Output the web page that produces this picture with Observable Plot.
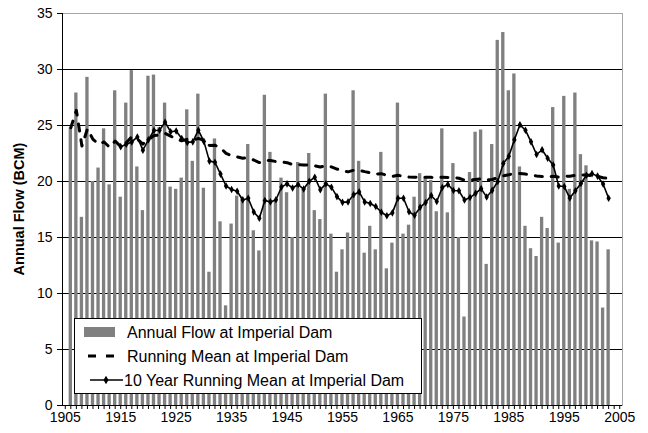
<!DOCTYPE html>
<html><head><meta charset="utf-8">
<script src="https://cdn.jsdelivr.net/npm/d3@7"></script>
<script src="https://cdn.jsdelivr.net/npm/@observablehq/plot@0.6"></script>
<style>
body{margin:0;background:#fff;}
#chart{position:relative;width:648px;height:433px;}
</style></head><body><div id="chart"></div>
<script>
// Years with data (water years at Imperial Dam)
const years = d3.range(1906, 2004);
// Annual flow (BCM)
const annualFlow = [
24.8,27.9,16.8,29.3,20.0,21.2,24.7,19.7,28.1,18.6,
27.0,29.9,21.3,17.4,29.4,29.5,24.8,27.0,19.5,19.3,
20.3,26.4,21.8,27.8,19.4,11.9,23.8,16.4,8.9,16.2,
18.7,18.6,23.3,15.6,13.8,27.7,22.6,18.3,20.3,19.0,
15.0,21.7,19.3,22.5,17.4,16.6,27.8,15.3,11.9,13.9,
15.4,28.1,21.8,13.6,16.0,13.9,22.6,12.2,14.5,27.0,
15.3,16.1,18.6,20.7,20.4,20.1,17.3,24.7,17.2,21.6,
15.0,7.9,20.8,24.4,24.6,12.6,23.3,32.6,33.3,28.1,
29.6,21.3,16.0,14.0,13.3,16.8,15.8,26.6,14.5,27.6,
19.3,27.9,22.4,21.4,14.7,14.6,8.7,13.9
];
// Running (cumulative) mean
const runningMean = [
24.80,26.35,23.17,24.70,23.76,23.33,23.53,23.05,23.61,23.11,
23.46,24.00,23.79,23.34,23.74,24.10,24.14,24.30,24.05,23.81,
23.64,23.77,23.68,23.85,23.68,23.22,23.24,23.00,22.51,22.30,
22.19,22.08,22.11,21.92,21.69,21.86,21.88,21.78,21.74,21.68,
21.51,21.52,21.47,21.49,21.40,21.29,21.43,21.30,21.11,20.97,
20.86,21.00,21.01,20.88,20.79,20.66,20.70,20.55,20.45,20.56,
20.47,20.40,20.37,20.38,20.38,20.37,20.33,20.39,20.35,20.36,
20.29,20.12,20.13,20.18,20.24,20.14,20.18,20.34,20.51,20.60,
20.71,20.72,20.66,20.58,20.50,20.45,20.40,20.47,20.40,20.48,
20.47,20.55,20.57,20.58,20.51,20.46,20.34,20.27
];
// 10-year running mean, 1915-2003
const tenYearYears = d3.range(1915, 2004);
const tenYearMean = [
23.11,23.33,23.53,23.98,22.79,23.73,24.56,24.57,25.30,24.44,
24.51,23.84,23.49,23.54,24.58,23.58,21.82,21.72,20.66,19.60,
19.29,19.13,18.35,18.50,17.28,16.72,18.30,18.18,18.37,19.51,
19.79,19.42,19.73,19.33,20.02,20.38,19.27,19.79,19.49,18.65,
18.14,18.18,18.82,19.07,18.18,18.04,17.77,17.25,16.94,17.20,
18.51,18.50,17.30,16.98,17.69,18.13,18.75,18.22,19.47,19.74,
19.20,19.17,18.35,18.57,18.94,19.36,18.61,19.21,20.00,21.61,
22.26,23.72,25.06,24.58,23.54,22.41,22.83,22.08,21.48,19.60,
19.55,18.52,19.18,19.82,20.56,20.70,20.48,19.77,18.50
];
// Axis categories and labels
const axisYears = d3.range(1905, 2006);
const xLabelYears = [1905,1915,1925,1935,1945,1955,1965,1975,1985,1995,2005];
const yTicks = [0,5,10,15,20,25,30,35];
const gridValues = [5,10,15,20,25,30];
const yTitle = "Annual Flow (BCM)";
const legendLabels = [
  "Annual Flow at Imperial Dam",
  "Running Mean at Imperial Dam",
  "10 Year Running Mean at Imperial Dam"
];

const bars = years.map((y, i) => ({year: y, flow: annualFlow[i]}));
const running = years.map((y, i) => ({year: y, value: runningMean[i]}));
const ten = tenYearYears.map((y, i) => ({year: y, value: tenYearMean[i]}));

const FONT = "'Liberation Sans', Arial, sans-serif";
const DASH = "7,9";

const svg = Plot.plot({
  width: 648, height: 433,
  marginLeft: 62, marginRight: 26, marginTop: 13, marginBottom: 28,
  style: {fontFamily: FONT, fontSize: "14px", color: "#000", background: "#fff", overflow: "visible"},
  x: {type: "band", domain: axisYears, paddingInner: 0.4, paddingOuter: 0.2, label: null},
  y: {domain: [0, 35], label: null},
  marks: [
    Plot.ruleY(gridValues, {stroke: "#000", strokeWidth: 1}),
    Plot.barY(bars, {x: "year", y: "flow", fill: "#808080"}),
    Plot.frame({stroke: "#a6a6a6"}),
    Plot.frame({anchor: "left", stroke: "#000"}),
    Plot.ruleY([0], {stroke: "#000"}),
    Plot.line(running, {x: "year", y: "value", stroke: "#000", strokeWidth: 3, strokeDasharray: DASH}),
    Plot.line(ten, {x: "year", y: "value", stroke: "#000", strokeWidth: 1.6}),
    Plot.dot(ten, {x: "year", y: "value", symbol: "diamond", r: 2.3, fill: "#000", stroke: "none"}),
    Plot.axisY({ticks: yTicks, tickSize: 5, tickPadding: 5, label: null, fontSize: 14}),
    Plot.axisX({ticks: axisYears, tickSize: 4, tickPadding: 3, label: null, fontSize: 14,
      tickFormat: d => xLabelYears.includes(d) ? String(d) : ""})
  ]
});

document.getElementById("chart").appendChild(svg);

const s = d3.select(svg);
// Y axis title
s.append("text")
  .attr("transform", "translate(19,209) rotate(-90)")
  .attr("text-anchor", "middle")
  .attr("dominant-baseline", "central")
  .style("font-family", FONT).style("font-weight", "bold").style("font-size", "14.5px")
  .text(yTitle);

// Legend
const lg = s.append("g");
lg.append("rect").attr("x", 74.5).attr("y", 318.5).attr("width", 347).attr("height", 75)
  .attr("fill", "#fff").attr("stroke", "#000");
const rowY = [332, 356, 380];
lg.append("rect").attr("x", 84).attr("y", rowY[0] - 5).attr("width", 31).attr("height", 10).attr("fill", "#808080");
lg.append("line").attr("x1", 88).attr("x2", 118).attr("y1", rowY[1]).attr("y2", rowY[1])
  .attr("stroke", "#000").attr("stroke-width", 3).attr("stroke-dasharray", "8,10");
lg.append("line").attr("x1", 90).attr("x2", 123).attr("y1", rowY[2]).attr("y2", rowY[2])
  .attr("stroke", "#000").attr("stroke-width", 1.6);
lg.append("path").attr("d", d3.symbol(d3.symbolDiamond, 22)()).attr("transform", `translate(106,${rowY[2]})`).attr("fill", "#000");
legendLabels.forEach((t, i) => {
  lg.append("text").attr("x", i === 2 ? 124 : 127).attr("y", rowY[i])
    .attr("text-anchor", "start")
    .attr("dominant-baseline", "central")
    .style("font-family", FONT).style("font-size", "16px").text(t);
});
</script></body></html>
